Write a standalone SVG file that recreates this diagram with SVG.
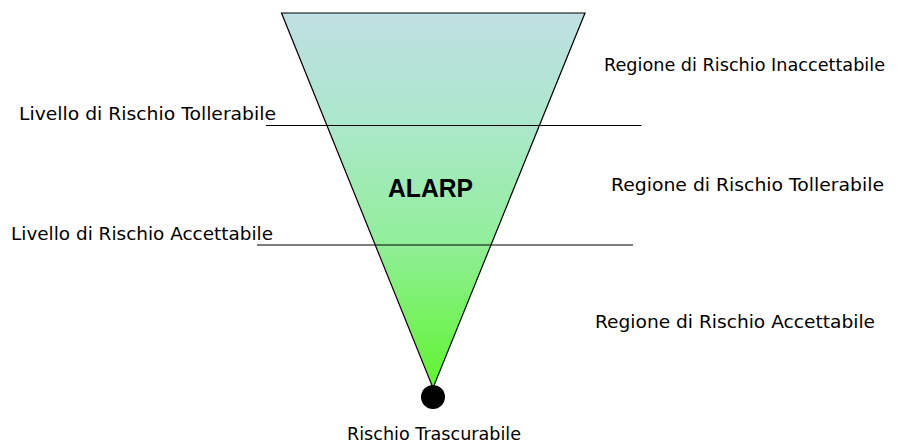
<svg xmlns="http://www.w3.org/2000/svg" width="906" height="444" viewBox="0 0 906 444">
<style>
.t{font-family:"DejaVu Sans","Liberation Sans",sans-serif;font-size:17.5px;fill:#000}
.b{font-family:"Liberation Sans",Arial,sans-serif;font-size:25px;font-weight:bold;fill:#000}
.ln{stroke:#000;stroke-width:1.2;fill:none}
</style>
<defs>
<linearGradient id="g" x1="0" y1="0" x2="0" y2="1">
<stop offset="0" stop-color="#bfdfe3"/>
<stop offset="0.3" stop-color="#abe8cb"/>
<stop offset="0.6" stop-color="#92ee9c"/>
<stop offset="1" stop-color="#5ff52e"/>
</linearGradient>
</defs>
<g id="funnel">
<polygon points="281.5,13 585,13 433,388" fill="url(#g)" stroke="#000" stroke-width="1.2"/>
</g>
<g id="dot">
<circle cx="433" cy="397" r="12" fill="#000"/>
</g>
<g id="connectors">
<line class="ln" x1="266" y1="125.5" x2="641.5" y2="125.5"/>
<line class="ln" x1="257" y1="245" x2="633" y2="245"/>
</g>
<g id="labels">
<text class="t" x="604" y="70.5" textLength="281" lengthAdjust="spacingAndGlyphs">Regione di Rischio Inaccettabile</text>
<text class="t" x="19" y="120" textLength="257" lengthAdjust="spacingAndGlyphs">Livello di Rischio Tollerabile</text>
<text class="b" x="388" y="197" textLength="85" lengthAdjust="spacingAndGlyphs">ALARP</text>
<text class="t" x="611" y="191" textLength="273" lengthAdjust="spacingAndGlyphs">Regione di Rischio Tollerabile</text>
<text class="t" x="11" y="240" textLength="262" lengthAdjust="spacingAndGlyphs">Livello di Rischio Accettabile</text>
<text class="t" x="595" y="328" textLength="280" lengthAdjust="spacingAndGlyphs">Regione di Rischio Accettabile</text>
<text class="t" x="347" y="440" textLength="174" lengthAdjust="spacingAndGlyphs">Rischio Trascurabile</text>
</g>
</svg>
